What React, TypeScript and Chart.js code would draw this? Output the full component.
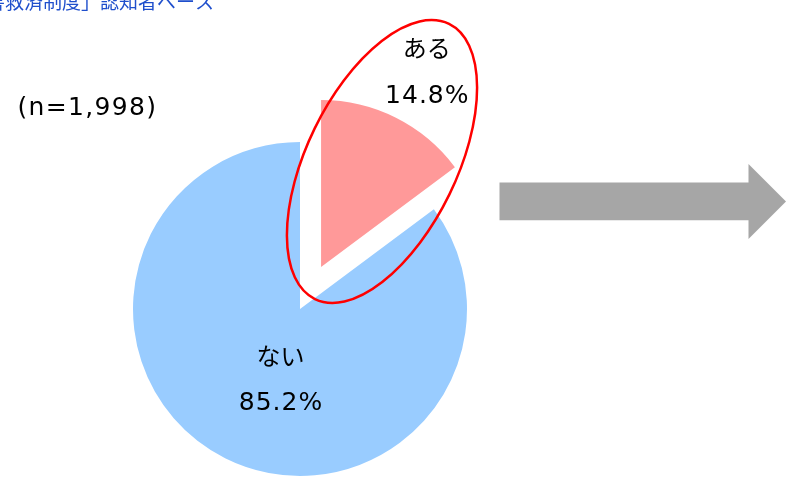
import React, { useEffect, useRef } from 'react';
import { Chart, registerables } from 'chart.js';

Chart.register(...registerables);

// ---- data ----
const categories = ['ある', 'ない'];
const shares = [14.8, 85.2];
const sampleSize = '(n=1,998)';
const titleText = '「医薬品副作用被害救済制度」認知者ベース';

// ---- styles ----
const sliceColors = ['#FF9999', '#99CCFF'];
const explodeDistances = [47, 0];
const KANA_FONT = '24px "Noto Sans CJK JP", sans-serif';
const PCT_FONT = '25px "DejaVu Sans", sans-serif';
const labelShift = [
  [105.7, -209.5],
  [-19.5, 55.5],
];
const pctGap = 45.3;

function fitText(ctx: CanvasRenderingContext2D, text: string, left: number, right: number, baseline: number) {
  (ctx as any).letterSpacing = '0px';
  const w0 = ctx.measureText(text).width;
  const n = Array.from(text).length;
  const ls = n > 1 ? (right - left - w0) / (n - 1) : 0;
  (ctx as any).letterSpacing = ls + 'px';
  ctx.textAlign = 'left';
  ctx.fillText(text, left, baseline);
  (ctx as any).letterSpacing = '0px';
}

const piePlugin = {
  id: 'explodedPie',
  beforeDatasetDraw(chart: any, args: any) {
    const ctx: CanvasRenderingContext2D = chart.ctx;
    args.meta.data.forEach((arc: any, i: number) => {
      const dist = explodeDistances[i] || 0;
      const mid = (arc.startAngle + arc.endAngle) / 2;
      ctx.save();
      ctx.translate(Math.cos(mid) * dist, Math.sin(mid) * dist);
      arc.draw(ctx, chart.chartArea);
      ctx.restore();
    });
    return false;
  },
  afterDatasetsDraw(chart: any) {
    const ctx: CanvasRenderingContext2D = chart.ctx;
    const meta = chart.getDatasetMeta(0);
    ctx.save();

    // title (cut at the top-left)
    ctx.font = '19px "Noto Sans CJK JP", sans-serif';
    ctx.fillStyle = '#1F4FCC';
    ctx.textAlign = 'right';
    ctx.textBaseline = 'alphabetic';
    ctx.fillText(titleText, 214, 9);

    // sample size
    ctx.font = '25px "DejaVu Sans", sans-serif';
    ctx.fillStyle = '#000000';
    fitText(ctx, sampleSize, 17.5, 156, 114.7);

    // arrow
    ctx.beginPath();
    ctx.moveTo(499.5, 182.5);
    ctx.lineTo(748.5, 182.5);
    ctx.lineTo(748.5, 164);
    ctx.lineTo(786, 201.5);
    ctx.lineTo(748.5, 239);
    ctx.lineTo(748.5, 220.3);
    ctx.lineTo(499.5, 220.3);
    ctx.closePath();
    ctx.fillStyle = '#A6A6A6';
    ctx.fill();

    // red ellipse
    ctx.beginPath();
    ctx.ellipse(382, 161.5, 75, 153, (26 * Math.PI) / 180, 0, Math.PI * 2);
    ctx.strokeStyle = '#FF0000';
    ctx.lineWidth = 2.5;
    ctx.stroke();

    // slice labels
    meta.data.forEach((arc: any, i: number) => {
      const mid = (arc.startAngle + arc.endAngle) / 2;
      const dist = explodeDistances[i] || 0;
      const ax = arc.x + Math.cos(mid) * dist;
      const ay = arc.y + Math.sin(mid) * dist;
      const lx = ax + labelShift[i][0];
      const ly = ay + labelShift[i][1];
      ctx.fillStyle = '#000000';
      ctx.textAlign = 'center';
      ctx.textBaseline = 'alphabetic';
      ctx.font = KANA_FONT;
      ctx.fillText(categories[i], lx, ly);
      ctx.font = PCT_FONT;
      (ctx as any).letterSpacing = '1px';
      ctx.fillText(shares[i].toFixed(1) + '%', lx + 0.5, ly + pctGap);
      (ctx as any).letterSpacing = '0px';
    });

    ctx.restore();
  },
};

export default function App() {
  const ref = useRef<HTMLCanvasElement>(null);
  useEffect(() => {
    if (!ref.current) return;
    const chart = new Chart(ref.current, {
      type: 'pie',
      data: {
        labels: categories,
        datasets: [
          {
            data: shares,
            backgroundColor: sliceColors,
            borderWidth: 0,
            hoverOffset: 0,
            offset: 0,
            radius: 167,
            clip: false,
          } as any,
        ],
      },
      options: {
        responsive: false,
        animation: false,
        events: [],
        layout: { padding: { left: 0, right: 191, top: 135, bottom: 0 } },
        plugins: {
          legend: { display: false },
          tooltip: { enabled: false },
        },
      } as any,
      plugins: [piePlugin],
    });
    return () => chart.destroy();
  }, []);
  return (
    <div style={{ position: 'absolute', left: 0, top: 0, width: 791, height: 483, background: '#ffffff' }}>
      <canvas ref={ref} width={791} height={483} style={{ display: 'block', width: 791, height: 483 }} />
    </div>
  );
}
